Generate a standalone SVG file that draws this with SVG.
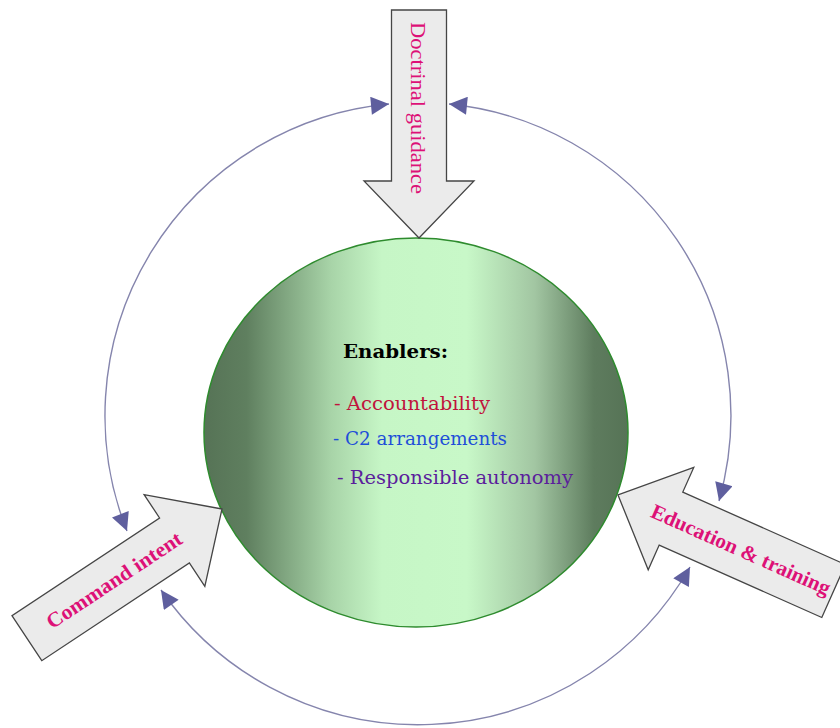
<svg xmlns="http://www.w3.org/2000/svg" width="840" height="728" viewBox="0 0 840 728">
  <defs>
    <linearGradient id="core-fill" x1="0" y1="0" x2="1" y2="0">
      <stop offset="0" stop-color="#567356"/>
      <stop offset="0.1" stop-color="#5f7f5f"/>
      <stop offset="0.3" stop-color="#a8d4a8"/>
      <stop offset="0.42" stop-color="#c6f6c6"/>
      <stop offset="0.62" stop-color="#c8f8c8"/>
      <stop offset="0.78" stop-color="#a2c6a2"/>
      <stop offset="0.92" stop-color="#5e7c5e"/>
      <stop offset="1" stop-color="#567356"/>
    </linearGradient>
    <marker id="tri" viewBox="0 0 10 10" refX="10" refY="5" markerUnits="userSpaceOnUse" markerWidth="21" markerHeight="18" orient="auto-start-reverse">
      <path d="M0,0 L10,5 L0,10 z" fill="#5f5f9e"/>
    </marker>
  </defs>
  <style>
    .loop { fill: none; stroke: #8585ad; stroke-width: 1.4; marker-start: url(#tri); marker-end: url(#tri); }
    .block { fill: #ebebeb; stroke: #454545; stroke-width: 1.3; stroke-linejoin: miter; }
    .label { font-family: "Liberation Serif", "DejaVu Serif", serif; fill: #dd1177; font-size: 21px; }
    .bold { font-weight: bold; }
    .item { font-family: "DejaVu Serif", "Liberation Serif", serif; font-size: 18px; }
  </style>

  <rect width="840" height="728" fill="#ffffff"/>

  <!-- circular feedback arcs -->
  <g id="connectors">
    <path class="loop" d="M 389 104 A 313 313 0 0 0 127 531"/>
    <path class="loop" d="M 449 104 A 313 313 0 0 1 719 501"/>
    <path class="loop" d="M 161 590 A 313 313 0 0 0 690 567"/>
  </g>

  <!-- central ellipse with enablers -->
  <g id="enablers">
    <ellipse cx="416" cy="432.5" rx="212" ry="194.5" fill="url(#core-fill)" stroke="#2e8b2e" stroke-width="1.5"/>
    <text class="item bold" x="343" y="358" font-size="20" textLength="105" lengthAdjust="spacingAndGlyphs" fill="#000000">Enablers:</text>
    <text class="item" x="334" y="410" textLength="156" lengthAdjust="spacingAndGlyphs" fill="#c0143c">- Accountability</text>
    <text class="item" x="333" y="445" textLength="174" lengthAdjust="spacingAndGlyphs" fill="#1f4fd8">- C2 arrangements</text>
    <text class="item" x="337" y="484" textLength="236" lengthAdjust="spacingAndGlyphs" fill="#5b1e9c">- Responsible autonomy</text>
  </g>

  <!-- block arrows feeding the centre -->
  <g id="doctrinal-guidance">
    <polygon class="block" transform="translate(419,238) rotate(90)" points="0,0 -57,-55 -57,-27.5 -228,-27.5 -228,27.5 -57,27.5 -57,55"/>
    <text class="label" transform="translate(411,108) rotate(90)" text-anchor="middle" textLength="172" lengthAdjust="spacingAndGlyphs">Doctrinal guidance</text>
  </g>

  <g id="command-intent">
    <polygon class="block" transform="translate(222,509) rotate(-33.5)" points="0,0 -57,-55 -57,-27 -234,-27 -234,27 -57,27 -57,55"/>
    <text class="label bold" font-size="22" transform="translate(118,586) rotate(-33.5)" text-anchor="middle" textLength="158" lengthAdjust="spacingAndGlyphs">Command intent</text>
  </g>

  <g id="education-training">
    <polygon class="block" transform="translate(618,495) rotate(204)" points="0,0 -58,-56 -58,-29 -236,-29 -236,29 -58,29 -58,56"/>
    <text class="label bold" font-size="22" transform="translate(738,556) rotate(24)" text-anchor="middle" textLength="194" lengthAdjust="spacingAndGlyphs">Education &amp; training</text>
  </g>
</svg>
